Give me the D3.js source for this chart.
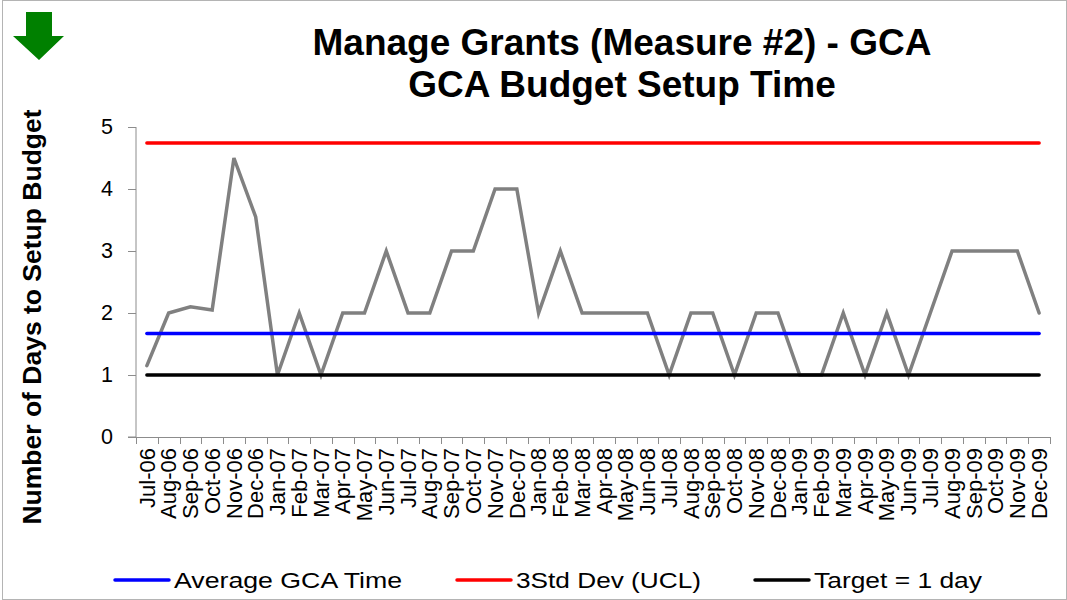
<!DOCTYPE html>
<html>
<head>
<meta charset="utf-8">
<script src="https://cdn.jsdelivr.net/npm/d3@7/dist/d3.min.js"></script>
<style>
  html, body { margin: 0; padding: 0; background: #fff; }
  svg { display: block; font-family: "Liberation Sans", Arial, sans-serif; }
</style>
</head>
<body>
<svg id="chart" width="1067" height="600"></svg>
<script>
const months = ["Jul-06","Aug-06","Sep-06","Oct-06","Nov-06","Dec-06",
  "Jan-07","Feb-07","Mar-07","Apr-07","May-07","Jun-07","Jul-07","Aug-07","Sep-07","Oct-07","Nov-07","Dec-07",
  "Jan-08","Feb-08","Mar-08","Apr-08","May-08","Jun-08","Jul-08","Aug-08","Sep-08","Oct-08","Nov-08","Dec-08",
  "Jan-09","Feb-09","Mar-09","Apr-09","May-09","Jun-09","Jul-09","Aug-09","Sep-09","Oct-09","Nov-09","Dec-09"];
const gcaDays = [1.15, 2.0, 2.1, 2.05, 4.5, 3.55,
  1, 2, 1, 2, 2, 3, 2, 2, 3, 3, 4, 4,
  2, 3, 2, 2, 2, 2, 1, 2, 2, 1, 2, 2,
  1, 1, 2, 1, 2, 1, 2, 3, 3, 3, 3, 2];
const averageValue = 1.67;
const uclValue = 4.74;
const targetValue = 1;
const yTicks = [0, 1, 2, 3, 4, 5];
const titleLines = ["Manage Grants (Measure #2) - GCA", "GCA Budget Setup Time"];
const yTitle = "Number of Days to Setup Budget";
const legendItems = [
  {label: "Average GCA Time", color: "#0000ff"},
  {label: "3Std Dev (UCL)", color: "#ff0000"},
  {label: "Target = 1 day", color: "#000000"}
];

(function () {
const svg = d3.select("#chart");
const W = 1067, H = 600;
const pLeft = 136, pRight = 1050, pTop = 127, pBottom = 437;

// border
svg.append("rect").attr("x", 2.5).attr("y", 0.5).attr("width", W - 3).attr("height", H - 1)
  .attr("fill", "#fff").attr("stroke", "#b4b4b4").attr("stroke-width", 1);

// green arrow (decorative)
svg.append("path")
  .attr("d", "M26,12 L52,12 L52,36 L64,36 L39,60 L13,36 L26,36 Z")
  .attr("fill", "#008000");

// title
svg.append("g").selectAll("text").data(titleLines).join("text")
  .attr("x", 622).attr("y", (d, i) => 55 + i * 42)
  .attr("text-anchor", "middle").attr("font-weight", "bold").attr("font-size", 37)
  .attr("fill", "#000").text(d => d);

const x = d3.scaleBand().domain(months).range([pLeft, pRight]);
const y = d3.scaleLinear().domain([0, 5]).range([pBottom, pTop]);
const cx = d => x(d) + x.bandwidth() / 2;

// y axis
const yAxis = svg.append("g").attr("transform", `translate(${pLeft},0)`)
  .call(d3.axisLeft(y).tickValues(yTicks).tickSize(8).tickPadding(15).tickFormat(d3.format("d")));
yAxis.select(".domain").attr("stroke", "#8c8c8c").attr("d", `M-8,${pBottom}H0V${pTop}`);
yAxis.selectAll(".tick line").attr("stroke", "#8c8c8c");
yAxis.selectAll(".tick text").attr("font-size", 21.5).attr("fill", "#000")
  .attr("font-family", "Liberation Sans, Arial, sans-serif");

// x axis
const xg = svg.append("g");
xg.append("line").attr("x1", pLeft).attr("x2", pRight).attr("y1", pBottom + 0.5).attr("y2", pBottom + 0.5)
  .attr("stroke", "#8c8c8c");
const edges = months.map(m => x(m)).concat([pRight]);
xg.selectAll("line.tk").data(edges).join("line").attr("class", "tk")
  .attr("x1", d => Math.round(d) + 0.5).attr("x2", d => Math.round(d) + 0.5)
  .attr("y1", pBottom).attr("y2", pBottom + 7).attr("stroke", "#8c8c8c");
xg.selectAll("text").data(months).join("text")
  .attr("transform", d => `translate(${cx(d)},448) rotate(-90)`)
  .attr("text-anchor", "end").attr("dy", "0.35em")
  .attr("font-size", 22).attr("fill", "#000").text(d => d);

// y title
svg.append("text")
  .attr("transform", `translate(41,317) rotate(-90)`)
  .attr("text-anchor", "middle").attr("font-weight", "bold").attr("font-size", 26.5)
  .attr("fill", "#000").text(yTitle);

// data line
const line = d3.line().x((d, i) => cx(months[i])).y(d => y(d));
svg.append("path").datum(gcaDays).attr("d", line)
  .attr("fill", "none").attr("stroke", "#808080").attr("stroke-width", 3.5)
  .attr("stroke-linejoin", "miter").attr("stroke-linecap", "round");

// reference lines
const refs = [
  {v: averageValue, color: "#0000ff"},
  {v: uclValue, color: "#ff0000"},
  {v: targetValue, color: "#000000"}
];
const x0 = cx(months[0]), x1 = cx(months[months.length - 1]);
svg.selectAll("line.ref").data(refs).join("line").attr("class", "ref")
  .attr("x1", x0).attr("x2", x1).attr("y1", d => y(d.v)).attr("y2", d => y(d.v))
  .attr("stroke", d => d.color).attr("stroke-width", 3.5).attr("stroke-linecap", "round");

// legend
const legendX = [115, 457, 755];
const legendTextLen = [228, 185, 168];
const lg = svg.append("g").selectAll("g").data(legendItems).join("g")
  .attr("transform", (d, i) => `translate(${legendX[i]},580)`);
lg.append("line").attr("x1", 0).attr("x2", 54).attr("y1", 0).attr("y2", 0)
  .attr("stroke", d => d.color).attr("stroke-width", 3.5).attr("stroke-linecap", "round");
lg.append("text").attr("x", 59).attr("y", 8).attr("font-size", 22.5).attr("fill", "#000")
  .attr("textLength", (d, i) => legendTextLen[i]).attr("lengthAdjust", "spacingAndGlyphs")
  .text(d => d.label);
})();
</script>
</body>
</html>
